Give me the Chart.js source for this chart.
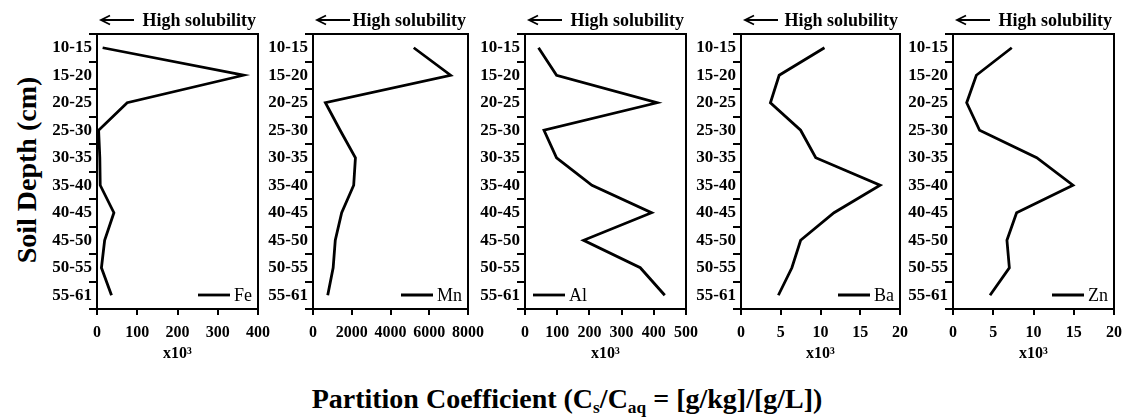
<!DOCTYPE html>
<html>
<head>
<meta charset="utf-8">
<title>Partition coefficient by soil depth</title>
<script src="https://cdn.jsdelivr.net/npm/chart.js@4.4.1/dist/chart.umd.min.js"></script>
<style>
  html, body { margin: 0; padding: 0; background: #fff; overflow: hidden; }
  #wrap { position: relative; width: 1125px; height: 418px; font-family: "Liberation Serif", "Times New Roman", serif; color: #000; }
  #wrap canvas { position: absolute; top: 0; }
  #yTitle {
    position: absolute; left: 27px; top: 170px;
    transform: translate(-50%, -50%) rotate(-90deg);
    font-size: 28px; font-weight: bold; white-space: nowrap; line-height: 28px;
  }
  #xTitle {
    position: absolute; left: 567px; top: 385px;
    transform: translateX(-50%);
    font-size: 28px; font-weight: bold; white-space: nowrap; line-height: 28px;
  }
  #xTitle sub { font-size: 62%; vertical-align: -0.3em; line-height: 0; }
</style>
</head>
<body>
<div id="wrap">
  <div id="yTitle">Soil Depth (cm)</div>
  <div id="xTitle">Partition Coefficient (C<sub>s</sub>/C<sub>aq</sub> = [g/kg]/[g/L])</div>
</div>

<script>
// Depth classes, top to bottom
const depthLabels = ['10-15', '15-20', '20-25', '25-30', '30-35', '35-40', '40-45', '45-50', '50-55', '55-61'];

// Partition coefficients (Fe, Al, Ba, Zn in x10^3)
const feValues = [14, 364, 75, 4, 7, 8, 42, 19, 11, 36];
const mnValues = [5200, 7100, 640, 1400, 2190, 2100, 1480, 1150, 1040, 760];
const alValues = [42, 98, 410, 59, 98, 208, 393, 182, 358, 434];
const baValues = [10.5, 4.8, 3.7, 7.5, 9.4, 17.5, 11.7, 7.5, 6.4, 4.7];
const znValues = [7.3, 2.9, 1.7, 3.3, 10.4, 14.9, 7.9, 6.7, 7.0, 4.6];

// x axis ranges (max, step) per element
const axisMax = [400, 8000, 500, 20, 20];
const axisStep = [100, 2000, 100, 5, 5];

const PLOT_TOP = 34;
const PLOT_BOTTOM = 309;
const Y_AXIS_W = 60;
const X_AXIS_H = 54;
const PAD_RIGHT = 20;

const panels = [
  { name: 'Fe', values: feValues, left: 97, width: 161, legend: 'right', x10: true },
  { name: 'Mn', values: mnValues, left: 313, width: 159, legend: 'right', x10: false },
  { name: 'Al', values: alValues, left: 525, width: 161, legend: 'left', x10: true },
  { name: 'Ba', values: baValues, left: 741, width: 159, legend: 'right', x10: true },
  { name: 'Zn', values: znValues, left: 953, width: 161, legend: 'right', x10: true }
];

const serif = '"Liberation Serif", "Times New Roman", serif';

// box around the plot area
const framePlugin = {
  id: 'frame',
  afterDraw(chart) {
    const { ctx, chartArea: a } = chart;
    ctx.save();
    ctx.strokeStyle = '#000';
    ctx.lineWidth = 2;
    ctx.strokeRect(a.left, a.top, a.right - a.left, a.bottom - a.top);
    ctx.restore();
  }
};

// "<-- High solubility" above each panel
const solubilityPlugin = {
  id: 'solubility',
  afterDraw(chart) {
    const { ctx, chartArea: a } = chart;
    ctx.save();
    ctx.strokeStyle = '#000';
    ctx.fillStyle = '#000';
    ctx.lineWidth = 1.8;
    const y = 20;
    ctx.beginPath();
    ctx.moveTo(a.left + 5, y);
    ctx.lineTo(a.left + 37, y);
    ctx.moveTo(a.left + 13, y - 4.5);
    ctx.lineTo(a.left + 4, y);
    ctx.lineTo(a.left + 13, y + 4.5);
    ctx.stroke();
    ctx.font = 'bold 18px ' + serif;
    ctx.textAlign = 'right';
    ctx.textBaseline = 'alphabetic';
    ctx.fillText('High solubility', a.right - 2, 26);
    ctx.restore();
  }
};

// small line + element name inside the plot
const elementLegend = {
  id: 'elementLegend',
  afterDraw(chart, args, opts) {
    const { ctx, chartArea: a } = chart;
    const name = chart.data.datasets[0].label;
    const y = a.bottom - 14;
    ctx.save();
    ctx.font = '18px ' + serif;
    ctx.fillStyle = '#000';
    ctx.strokeStyle = '#000';
    ctx.lineWidth = 2.8;
    ctx.textBaseline = 'middle';
    const w = ctx.measureText(name).width;
    let x0;
    if (opts.side === 'left') {
      x0 = a.left + 8;
    } else {
      x0 = a.right - 6 - w - 36;
    }
    ctx.beginPath();
    ctx.moveTo(x0, y);
    ctx.lineTo(x0 + 32, y);
    ctx.stroke();
    ctx.textAlign = 'left';
    ctx.fillText(name, x0 + 36, y + 1);
    ctx.restore();
  }
};

const wrap = document.getElementById('wrap');

panels.forEach((p, i) => {
  const canvas = document.createElement('canvas');
  const cw = Y_AXIS_W + p.width + PAD_RIGHT;
  const ch = PLOT_BOTTOM + X_AXIS_H;
  canvas.width = cw;
  canvas.height = ch;
  canvas.style.width = cw + 'px';
  canvas.style.height = ch + 'px';
  canvas.style.left = (p.left - Y_AXIS_W) + 'px';
  wrap.appendChild(canvas);

  new Chart(canvas, {
    type: 'line',
    data: {
      labels: depthLabels,
      datasets: [{
        label: p.name,
        data: p.values,
        borderColor: '#000',
        borderWidth: 2.8,
        pointRadius: 0,
        tension: 0,
        fill: false
      }]
    },
    options: {
      indexAxis: 'y',
      responsive: false,
      animation: false,
      layout: { padding: { top: PLOT_TOP, right: PAD_RIGHT, left: 0, bottom: 0 } },
      plugins: {
        legend: { display: false },
        tooltip: { enabled: false },
        elementLegend: { side: p.legend }
      },
      scales: {
        x: {
          type: 'linear',
          min: 0,
          max: axisMax[i],
          ticks: {
            stepSize: axisStep[i],
            color: '#000',
            padding: 8,
            maxRotation: 0,
            font: { family: serif, size: 16, weight: 'bold' },
            callback: (v) => String(v)
          },
          grid: { drawOnChartArea: false, tickLength: 6, color: '#000', lineWidth: 2 },
          border: { color: '#000', width: 2 },
          title: {
            display: p.x10,
            text: 'x10³',
            color: '#000',
            padding: 0,
            font: { family: serif, size: 16, weight: 'bold' }
          },
          afterFit: (s) => { s.height = X_AXIS_H; }
        },
        y: {
          type: 'category',
          offset: true,
          ticks: {
            color: '#000',
            padding: -3,
            autoSkip: false,
            font: { family: serif, size: 17, weight: 'bold' }
          },
          grid: { offset: true, drawOnChartArea: false, tickLength: 8, color: '#000', lineWidth: 2 },
          border: { color: '#000', width: 2 },
          afterFit: (s) => { s.width = Y_AXIS_W; }
        }
      }
    },
    plugins: [framePlugin, solubilityPlugin, elementLegend]
  });
});
</script>
</body>
</html>
